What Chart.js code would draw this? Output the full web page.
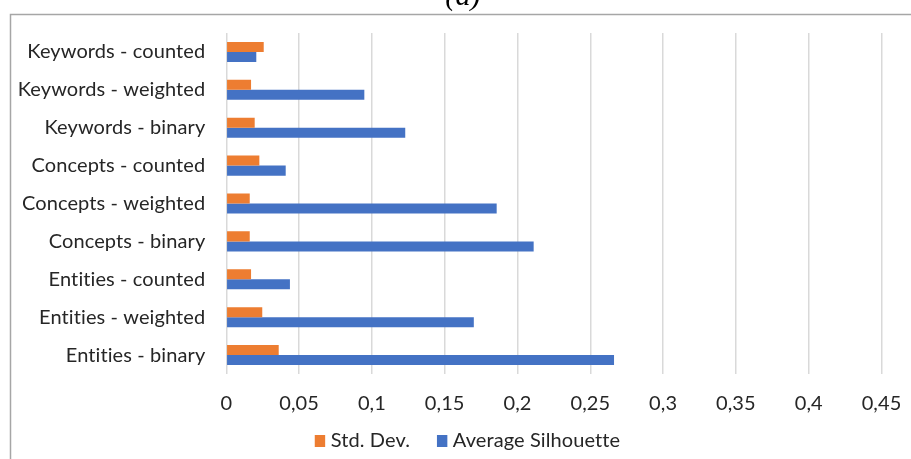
<!DOCTYPE html>
<html>
<head>
<meta charset="utf-8">
<script src="https://cdn.jsdelivr.net/npm/chart.js@4/dist/chart.umd.min.js"></script>
<style>
  html, body { margin: 0; padding: 0; background: #ffffff; }
  #wrap { width: 911px; height: 459px; position: relative; }
</style>
</head>
<body>
<div id="wrap"><canvas id="chart"></canvas></div>
<script>
// Feature variants, listed top to bottom
const categories = [
  'Keywords - counted',
  'Keywords - weighted',
  'Keywords - binary',
  'Concepts - counted',
  'Concepts - weighted',
  'Concepts - binary',
  'Entities - counted',
  'Entities - weighted',
  'Entities - binary'
];

const stdDev = [0.0257, 0.0170, 0.0195, 0.0227, 0.0161, 0.0161, 0.0170, 0.0247, 0.0360];
const avgSilhouette = [0.0206, 0.0948, 0.1229, 0.0408, 0.1857, 0.2111, 0.0437, 0.1700, 0.2663];

const tickValues = [0, 0.05, 0.1, 0.15, 0.2, 0.25, 0.3, 0.35, 0.4, 0.45];
const tickLabels = ['0', '0,05', '0,1', '0,15', '0,2', '0,25', '0,3', '0,35', '0,4', '0,45'];

const panelLabel = '(a)';

const textColor = '#262626';
const fontFamily = 'Lato, "Open Sans", sans-serif';
const labelFont = { family: fontFamily, size: 20 };

// A tiny letter spacing keeps "ti" from turning into a ligature
const spacingPlugin = {
  id: 'spacing',
  beforeUpdate(chart) { chart.ctx.letterSpacing = '0.1px'; },
  beforeDraw(chart) { chart.ctx.letterSpacing = '0.1px'; }
};

// Frame around the panel and its caption letter
const framePlugin = {
  id: 'frame',
  beforeDraw(chart) {
    const ctx = chart.ctx;
    ctx.save();
    ctx.strokeStyle = '#a6a6a6';
    ctx.lineWidth = 1.5;
    ctx.beginPath();
    ctx.moveTo(10.5, chart.height + 1);
    ctx.lineTo(10.5, 14.5);
    ctx.lineTo(chart.width + 1, 14.5);
    ctx.stroke();
    ctx.fillStyle = '#000000';
    ctx.font = 'italic 30px "Liberation Serif", "DejaVu Serif", serif';
    ctx.textAlign = 'center';
    ctx.textBaseline = 'alphabetic';
    ctx.fillText(panelLabel, 463, 5);
    ctx.restore();
  }
};

// Legend row under the axis: small colour box, then the series name
const legendRow = {
  id: 'legendRow',
  afterDraw(chart) {
    const ctx = chart.ctx;
    const sets = chart.data.datasets;
    const boxW = 10.4, boxH = 12, gapText = 5.5, gapItem = 27;
    const centerX = 467.5, centerY = 441;
    ctx.save();
    ctx.font = '20px ' + fontFamily;
    ctx.textBaseline = 'middle';
    ctx.textAlign = 'left';
    const widths = sets.map(ds => ctx.measureText(ds.label).width);
    let total = 0;
    widths.forEach((w, i) => { total += boxW + gapText + w + (i < widths.length - 1 ? gapItem : 0); });
    let x = centerX - total / 2;
    sets.forEach((ds, i) => {
      ctx.fillStyle = ds.backgroundColor;
      ctx.fillRect(x, centerY - boxH / 2, boxW, boxH);
      x += boxW + gapText;
      ctx.fillStyle = textColor;
      ctx.fillText(ds.label, x, centerY);
      x += widths[i] + gapItem;
    });
    ctx.restore();
  }
};

new Chart(document.getElementById('chart'), {
  type: 'bar',
  data: {
    labels: categories,
    datasets: [
      {
        label: 'Std. Dev.',
        data: stdDev,
        backgroundColor: '#ED7D31',
        borderWidth: 0
      },
      {
        label: 'Average Silhouette',
        data: avgSilhouette,
        backgroundColor: '#4472C4',
        borderWidth: 0
      }
    ]
  },
  options: {
    indexAxis: 'y',
    responsive: true,
    maintainAspectRatio: false,
    animation: false,
    devicePixelRatio: 1,
    layout: { padding: { left: 0, right: 0, top: 31, bottom: 35 } },
    datasets: {
      bar: { barPercentage: 1.0, categoryPercentage: 0.53 }
    },
    scales: {
      x: {
        type: 'linear',
        min: 0,
        max: 0.45,
        afterBuildTicks(scale) {
          scale.ticks = tickValues.map(v => ({ value: v }));
        },
        afterFit(scale) {
          scale.height = 50;
          scale.paddingRight = 29.5;
        },
        ticks: {
          color: textColor,
          font: labelFont,
          padding: 18,
          maxRotation: 0,
          autoSkip: false,
          callback(value) {
            const i = tickValues.findIndex(t => Math.abs(t - value) < 1e-9);
            return i >= 0 ? tickLabels[i] : '';
          }
        },
        grid: { color: '#d9d9d9', lineWidth: 1.5, drawTicks: false },
        border: { display: false }
      },
      y: {
        afterFit(scale) { scale.width = 226.3; },
        ticks: { color: textColor, font: labelFont, padding: 21 },
        grid: { display: false, drawTicks: false },
        border: { display: false }
      }
    },
    plugins: {
      legend: { display: false },
      tooltip: { enabled: false }
    }
  },
  plugins: [spacingPlugin, framePlugin, legendRow]
});
</script>
</body>
</html>
